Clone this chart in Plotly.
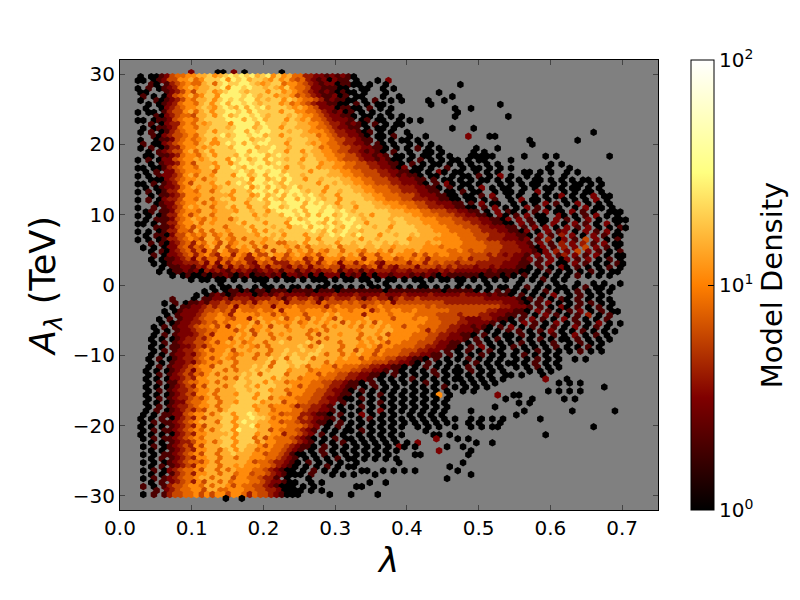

import math

import plotly.graph_objects as go

# counts for the digits used in the rows below, "." is an empty bin
LEVEL_COUNTS = [1, 2, 3, 4, 6, 8, 11, 15, 20, 28]

LAMBDA_START = 0.025
LAMBDA_STEP = 0.00743
A_START = 30.2
A_STEP = 0.566

# one string per hex row, top to bottom, in blocks of ten columns
UPPER_ROWS = [
    ".......... 2....00.2. 0......0..",
    "0.00124556 6778678989 8978968675 5332212121 0",
    "00.0124466 7568889698 9788768675 4532120211 .0...0.2",
    "..10.13456 5578589889 9876788566 5432122011 00.0..0... .......... 0",
    "0.1.012356 7677889699 8988787686 5542211100 ..00..0.0.",
    "00...12346 4778678998 7888688676 5432121010 0.0...0... ......0...",
    ".1.0.02456 7568869999 8987886776 4543211201 .00...0..0 .........0",
    "0..1012346 5778689898 9978788687 6554312110 0.0.1..0.0 ....0..0..",
    "..0.012356 6578689799 8987888675 6543221100 .1.0.00... .....0.... ........0",
    ".0..023456 6787689879 7989788876 7654222011 00.1.0.0.. .........0 ..0",
    "0.00.13446 7578688998 9798888688 6655432120 1.0.0..0.. ..........0",
    "...1023455 4778689789 9898788878 7665432211 0.00.0.0.0 .........0 .........0",
    "00.0112456 6578888999 7989788868 7675543222 1.01.00..0 .0.0",
    "..1.023356 5767888699 9979888788 7766543321 210.1.0.00",
    ".0.0112356 6577888789 9978988688 7776554322 11.0.00.0. .........0 ...0",
    "0.1.013456 6778688899 7989988878 8766654332 2101.0.0.. 0......... .......... .......... .....0",
    "...1023445 6578889789 9899788688 8777565433 2210.00.1. .0..0..... ..2...00..",
    "0..0112456 5678688899 9788988878 8877665443 3211.0.0.0 0.0....... .......... ...0...... ..0",
    ".1.0023456 6578668989 7989988868 8876765543 3221.10.0. .0.0.0.... .......... ....0",
    "0.1.013356 6767888799 9978898878 8887565544 3322110.0. 0.1.0.0... ...0...0..",
    "..0.123446 7578688889 9798898868 8687766544 3321210.1. .0..00.0.. ...0.0",
    ".00.112356 6578688879 8999789888 8787766554 4322121.00 .0.00.0.0. ..00000... ..0...0.0. ........0",
    "0.1.022456 6767888698 9789798878 8688776654 4432212100 .0.1.0.0.0 0.0.00.... 0",
    "..0.122356 4777688689 9899789888 7888677665 5443322110 .1.0.00.0. 0.0..0.0.. .......0.0",
    "00.0013456 6577868898 7998998868 8788677665 5444332210 2.00.0..1. .0.00.0.0. 0......0.. .0",
    ".0.1.22456 6677588889 8799899788 8868887766 5544433221 100.0.20.0 0..0.0.0.. ..00.0.0.. 0.0",
    "0.0.122346 7577688869 9789799898 8788887776 6554443321 2110.00..0 .00.1.0.2. 0..0.0.... 0",
    "..00023456 6757788888 9699789798 8688788877 6655444332 2211.1.00. 0.0.00.0.0 .0..00.0.0 .0.00.0",
    "00.1.12356 4777688689 8799898798 8888688787 7665544433 22210.1.20 .00.0...0. 0.0.00..0. 0.00.0.0.",
    ".0.0122356 7677678888 9689798789 7888868888 7766555443 3322110.1. 0.0.2.0.00 ..0.0.00.0 .00.0.0",
    "0.1.013356 6577578868 8799897989 9878868878 8776655544 3332211.00 .1.00..0.0 0.0..2.0.. 0.0.00.0.",
    "..0.112346 6677777688 8679789798 9898788688 8877665554 4432221100 .00.1.2..0 .0..0.0.02 .0.0.2.00",
    "0.1.023346 6577578868 8789798799 7989878868 8887766555 4433322110 0.00.0.1.. 0.2.00.0.. 0.0.0.2.0.",
    "...0122456 6757677888 6888799899 9798988688 7888776665 5544332221 1.1.2.00.. 0.0.0.2.1. 0.2.0.0.0.",
    "0..1.12346 7677577868 8688799789 9799989878 8688877766 6554433322 1100.1.2.0 .0.2.1.0.0 ..0.2.00.0",
    ".01.112456 6577677768 8788689998 9799899898 7888888777 6665544433 2211.0.2.1 0.0.1.2.00 .2.1.0..00 0",
    "0.0.013356 4677577788 8868788799 8979799789 8878688877 7766555444 3322110.20 .1.2.00..2 0.0.1.2.0.0",
    ".0.1112456 7657677578 8878888879 7899979898 9878888788 7776665554 4333221102 .2.1.00.2. 1.0.2.0..00 0",
    "00.0.13356 6757677778 6888688869 9989879789 9886888878 8777666555 4443322110 0.2.1.0.2. 0.2.1.0.2.0",
    "...1112456 4677775777 8688878868 8979989879 8988788688 8877766655 5444332221 1.1.2.2.0. 2.1.2.0.0.1 0",
    "0.0.013355 4757577677 7868688788 8889879789 8878888788 8887776665 5554433322 1102.0.2.1 2.0.2.1.2.0",
    ".0.1102446 5657567577 7768878688 8688789898 7988868878 8787777666 5554443332 2110.2.1.3 .2.0.2.1.0 0",
    "0.0.013345 6547757657 5777678788 8868688878 8868878888 8677776666 6555443332 2212.1.3.0 2.1.4.2.0.1",
    "..1.102345 3657647567 7576775577 8688788688 7887887878 8777677666 6555544433 3221.2.1.3 .2.3.1.2.0 0",
    ".0.0.02245 3546747467 6757477767 5757777857 7787787767 7777666566 6555554443 3322102.1. 3.2.4.2.1.0",
    "..0.102345 3536476446 6746747757 6757657757 7657767577 6676666655 6545544433 3322102.3. 2.4.2.1.0.1",
    "...1.02234 5356436636 5364476646 7656467767 6746646676 6646465665 5554443432 3221.2.2.1 3.2.1.2.0.0 0",
    "..0.011234 2535535465 3356536456 6346366646 6636646645 6565355555 4534443333 2212.1.2.0 2.1.2.0.1.0",
    "...0.01223 3342525354 5325453335 4535356525 5356532555 5355354544 3444333332 2211.1.2.0 0.2.1.0.0.1 0",
    "....0.1122 1324314243 4324244324 3424454424 4434524324 4424443434 3332332322 2110.1.0.2 0.1.0.0.1.0",
    "....0.0112 1203232132 3212323133 1323233413 2313233323 3233322323 2222221211 1100.0.1.0 .0.0.1.0.0 0",
    "......0.01 0010112101 2011212022 1202022202 1202022122 2121210211 1111011101 0.1.0.0.0. 0.1.0.0.0.",
    "..........0 .00.00.0.0 .000.0.00. 0.000.0.00 .00.0.00.0 .00.0.00.0 0.0.0.0.0. .0.0.1.0.0",
    ".......... .....0.... ...0...... .....0.... ...0..0... ...0...... 0....0.... .0...0..0. ..0..0.0.. 0",
]

LOWER_ROWS = [
    ".......... ....0.00.0 ..0.00.0.0 0.0.00.00. 0.0.00.0.0 .0.00.0.0. 0.0.0.0.00 .0.1.0.0.0 0.0.1.00.0",
    ".......... ..0.0.0110 1011011101 1110111011 1111110111 1111111011 1110.0.1.1 0.0.0.1.0. 0.1.0.0.0",
    ".......... .0.0121012 2201212322 2212222322 2322223222 3222232222 2322221211 0.1.0.0.2. .0.1.0.0.",
    "......1... 0.11223133 3233343134 3343134333 4313433134 3343333333 3333322222 2101.1.0.1 0.1.0.0.0",
    ".....0.1.0 1121334344 3424544524 4454254445 4544454524 4444444433 3333333332 2210.1.2.0 .0.1.1.0.0",
    "......0.11 2234344525 5455525556 5555535655 5535565555 5555454444 4444444433 2221.1.0.2 0.1.0.1.0.",
    ".....0.012 2234454536 5556556366 6566656566 5666356566 5565555554 4444443322 2110.2.1.0 .1.2.0.1.0 0",
    ".....0.122 2345565366 6656646566 6466676766 6636666566 6655554444 3444332221 1.1.0.2.1. 0.1.3.0.1",
    "....0.1.12 2345566546 6367666746 7647676476 6667666646 6656655444 4322233211 0.1.2.1.0. 2.1.0.0.1.",
    "....0.0122 3345465666 6747676667 5676767747 6767476666 6666555444 3322221.0. 0.2.1.0.2. 0.1.0.2.0. 0",
    "...0.1.122 3455646367 6766747757 7677757677 6757676766 4665555443 3221210.1. 2.0.1.0.1. 0.2.0.1.0",
    "...0.0.122 3445566646 7467677767 7756757777 7677767766 6665354433 2221.0.0.1 .1.0.1.2.0 .0.1.0.0.0",
    "...0.1.122 2345366667 6747757677 7757477767 7757767466 6655544332 2110.1.0.0 0.1.0.0.1. 0.2.0.1.0",
    "..0.0.0123 3435666476 7677757757 7757757777 7576757666 6555443322 21.1.0.1.0 .0.0.1.0.0 0.1.0.0.0",
    "...0.1.123 3445646767 5677577877 7787477757 7767676466 5554443221 1.0.1.0.0. 0.1.0.0.1. .0.1.0.0",
    "..0.0.1122 3435666676 7657577777 8757877757 7667646655 5544332211 0.1.2.0.0. 1.0.0.0.1. 0.0.1.0.",
    "...0.1.123 3456466747 7677757787 7877877757 7476646555 4443322.1. 0.1.0.1.0. .0.0.1.0.0 .0.1.0.0",
    "..0.0.1223 2456667656 7757577878 7788757757 6766465554 4332211.1. 0.0.1.0.0. 0.1.0.0.0",
    "..0.1.0123 3456467657 7757787858 8785777767 6646555443 32110.1.0. 0.1.0.0.0. .0.0.1.0.0 ..0.0",
    "..0.0.1223 2456657757 7777858878 8877757666 6655444332 210.1.0.0. .0.1.0.0.0 0.0.1.0.0.",
    "..0.1.1223 4566477757 7787858887 8757766465 5544332211 0.0.1.0.0. 0.1.0.0.0. .0.0.1.0.0",
    ".0.0.01234 2566775757 7878788867 7756666555 4433221.10 .0.0.1.0.0 0.1.0.0.0. ...0.0.0",
    "..0.1.1234 3546757777 8785888857 7766465544 3322110.1. 0.0.0.1.0. 0.0.0.0..0 0.0...0..",
    ".0.0.02234 3667775758 7888868777 5666555443 3221.0.0.0 .1.0.0.0.0 0.0.0.0.0. ......2... 0",
    "..0.1.1134 5566757778 8788687756 6665544332 110.1.0.0. 0.0.1.0.0. .0.0.0.0.. .........0 .0.0",
    ".0.0.01234 3647775788 7868887776 4655543321 1.0.1.0.0. .0.0.0.1.0 .0.0.0.... .......... .......0",
    "..0.1.1233 4566757778 8788867756 6655443221 0.1.0.0.0. 0.0.0.0.0. .0.0...... .......0.0 .0.0",
    ".0.0.01234 3667577768 8868877746 6554433211 .0.0.1.0.0 .0.0.06.0. .......2.. 00",
    "..0.1.1233 4546757778 8868857666 5554432210 0.1.0.0.0. 0.0.0.0.0. .........0 ....0..... 0.0",
    ".0.0.01224 5567757768 8886777466 5544332.1. .0.0.1.0.0 .0.0.0.0.. .......... .0.0",
    "..0.1.1233 4566757788 8867756665 3443321.0. 0.1.0.0.0. 0.0.0.0.0. .......0..",
    ".0.1.01234 3547757888 8867756665 5433221.0. .0.0.2.0.0 .0.0.0.0.. ..0....... ..0....... .0.......0",
    ".0.0.11224 5667578868 8987766455 5332110.1. 0.2.0.0.0. .0.0.0.0.. .......... .0",
    "0.0.1.0234 3647778868 8988756665 3432211.0. .0.1.0.0.0 .0.0.0.0.0 ..0.0.0.0. .....0....",
    ".0.1.11234 5677758868 9887766455 4332110.1. 0.0.0.0.0. 0.0.0.0.0. ..0.0...0",
    "0.0.0.1234 3647778868 8967766655 5432.0.1.0 .0.0.0.0.0 ..0.0.0..0 ..0.0.00.. .......... .....0",
    ".0.1.11234 5657578869 8887746555 4321.0.0.0 0.1.0.0.0. ....0.....",
    "0.0.0.0234 3667777868 8867766355 432.1.0.0. .0.0.0.0.0 .....00.0. .......... ......0",
    ".0.1.11234 5657778868 8857465554 3210.0.1.0 0.0.0.0.0. ......2... 0.0",
    "..0.0.1233 4667578868 8857665554 321.0.0.1. 0.0.0.0.0. 0.2....... ...0..0...",
    ".0.1.01234 3647778868 8776465543 2110.1.0.0 .0.0.0.0.2 0.0.....0. .0",
    "..0.0.1234 3667757868 7756655432 1.0.1.0.0. 0.0.0.0.0. ......2... ..0",
    ".0.0.11234 5647757787 7766455431 00.0.1.0.0 .0.0.0.0.. ..00...... ..0",
    "..0.1.1234 3667757757 7666554321 .0.0.0.1.0 0.0.0.0.0.",
    ".0.0.01234 5546757777 7645543321 0.1.0.0.0. .0.......0 .......... .0",
    "..0.1.1234 3667757767 6665543210 .0.0.1.0.0 0......... ........0.",
    ".0.1.02345 5647757576 6655432100 .0.1.0.0.. ..00..0.0. 0.0....... 0",
    "..0.0.1345 3667757756 6455432100 0.1...0.0. 0...0..... .......... ..0",
    ".0.1.12345 5677577746 6554331.0. ..0....... .......... ........0.",
    "..0.1.2345 3647757566 6554322100 ..0.0..... ...0..0...",
    ".1.0.13445 6657577646 5544321000 .0.0...... .00",
    "...1.23455 6647755666 5544332000 0.0.0",
    ".0.1.13445 5646466466 5354432100 0.....0. ..0....0",
    ".......... ......0..0",
]

xs, ys, counts = [], [], []
for r, row in enumerate(UPPER_ROWS + LOWER_ROWS):
    cells = row.replace(" ", "")
    shift = LAMBDA_STEP / 2 if r % 2 else 0
    for c, ch in enumerate(cells):
        if ch == ".":
            continue
        xs.append(LAMBDA_START + c * LAMBDA_STEP + shift)
        ys.append(A_START - r * A_STEP)
        counts.append(LEVEL_COUNTS[int(ch)])

color_vals = [math.log10(v) for v in counts]

AFMHOT = [
    [0.0, "#000000"], [0.25, "#800000"], [0.5, "#ff8000"],
    [0.75, "#ffff80"], [1.0, "#ffffff"],
]

fig = go.Figure()
fig.add_trace(go.Scatter(
    x=xs, y=ys, mode="markers",
    marker=dict(
        symbol="hexagon", size=7.5, color=color_vals, cmin=0, cmax=2,
        colorscale=AFMHOT, line=dict(width=0),
        colorbar=dict(
            x=1.0613, xanchor="left", y=0.5, len=1, lenmode="fraction",
            xpad=0, ypad=0,
            thickness=23, outlinewidth=1, outlinecolor="black",
            tickvals=[0, 1, 2],
            ticktext=["10<sup>0</sup>", "10<sup>1</sup>", "10<sup>2</sup>"],
            ticks="inside", ticklen=6, tickcolor="black",
            tickfont=dict(size=20, color="black"),
            title=dict(text="Model Density", side="right", font=dict(size=29, color="black")),
        ),
    ),
    showlegend=False,
))

# the page body adds 8px around the figure, so it is kept 8px short of the window
fig.update_layout(
    width=792, height=592,
    paper_bgcolor="white", plot_bgcolor="#808080",
    font=dict(family="DejaVu Sans", color="black"),
    margin=dict(l=112, r=142, t=52, b=90, autoexpand=False),
    xaxis=dict(
        range=[0, 0.75], tickvals=[0, 0.1, 0.2, 0.3, 0.4, 0.5, 0.6, 0.7],
        ticktext=["0.0", "0.1", "0.2", "0.3", "0.4", "0.5", "0.6", "0.7"],
        ticks="inside", ticklen=5, mirror="ticks", showline=True, linecolor="black",
        linewidth=1, showgrid=False, zeroline=False, tickfont=dict(size=20),
        title=dict(text="<i>λ</i>", font=dict(size=34), standoff=4),
    ),
    yaxis=dict(
        range=[-32, 32], tickvals=[-30, -20, -10, 0, 10, 20, 30],
        ticktext=["−30", "−20", "−10", "0", "10", "20", "30"],
        ticks="inside", ticklen=5, mirror="ticks", showline=True, linecolor="black",
        linewidth=1, showgrid=False, zeroline=False, tickfont=dict(size=20),
        title=dict(text="<i>A</i><sub><i>λ</i></sub> (TeV)", font=dict(size=35), standoff=6),
    ),
)

fig.write_html("out.html")
